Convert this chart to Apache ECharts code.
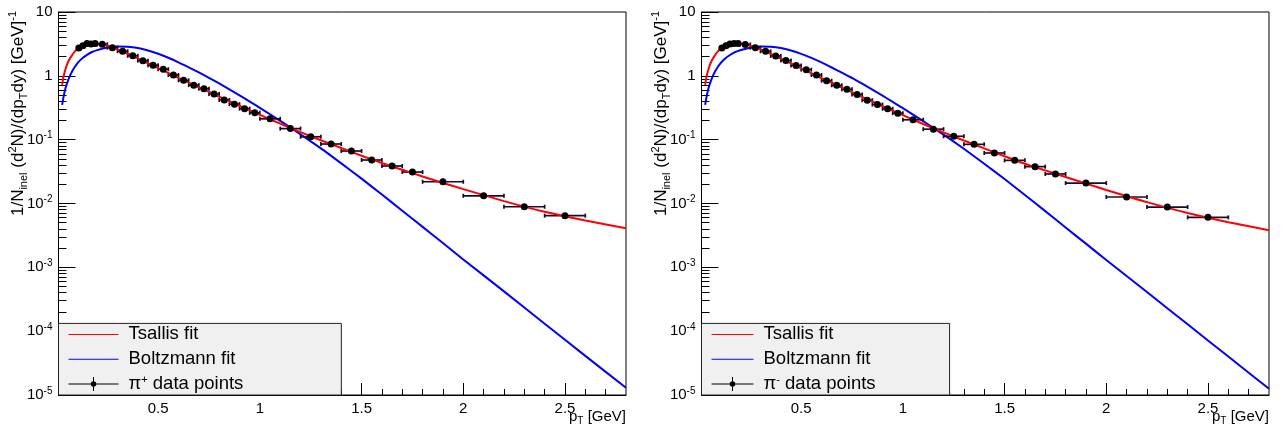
<!DOCTYPE html>
<html><head><meta charset="utf-8">
<script src="https://cdn.jsdelivr.net/npm/echarts@6/dist/echarts.min.js"></script>
<style>html,body{margin:0;padding:0;background:#fff}#c{width:1286px;height:433px}</style>
</head><body><div id="c"></div>
<script>
// ---- tick labels ----
const xTickLabels = [0.5, 1, 1.5, 2, 2.5];
const xMinorTicks = [0.1,0.2,0.3,0.4,0.6,0.7,0.8,0.9,1.1,1.2,1.3,1.4,1.6,1.7,1.8,1.9,2.1,2.2,2.3,2.4,2.6,2.7];
const yDecades = [1e-5, 1e-4, 1e-3, 1e-2, 1e-1, 1, 10];
const yMinorTicks = [];
for (let d = 0; d < yDecades.length - 1; d++) for (let k = 2; k <= 9; k++) yMinorTicks.push(k * yDecades[d]);

// ---- data points (pT bin centres, half widths) ----
const ptBins = [0.11,0.13,0.15,0.17,0.19,0.225,0.275,0.325,0.375,0.425,0.475,0.525,0.575,0.625,0.675,0.725,0.775,0.825,0.875,0.925,0.975,1.05,1.15,1.25,1.35,1.45,1.55,1.65,1.75,1.9,2.1,2.3,2.5];
const ptHalfWidth = [0.01,0.01,0.01,0.01,0.01,0.025,0.025,0.025,0.025,0.025,0.025,0.025,0.025,0.025,0.025,0.025,0.025,0.025,0.025,0.025,0.025,0.05,0.05,0.05,0.05,0.05,0.05,0.05,0.05,0.1,0.1,0.1,0.1];
const piPlusY = [2.72,2.95,3.2,3.14,3.22,3.12,2.76,2.43,2.06,1.73,1.46,1.27,1.03,0.85,0.715,0.63,0.52,0.418,0.36,0.306,0.263,0.212,0.149,0.111,0.0855,0.0664,0.048,0.0387,0.0311,0.0219,0.0132,0.0089,0.00645];
const piMinusY = [2.72,2.96,3.16,3.22,3.2,3.1,2.76,2.42,2.05,1.74,1.45,1.25,1.03,0.84,0.71,0.615,0.51,0.415,0.355,0.305,0.26,0.205,0.146,0.113,0.0845,0.0618,0.0474,0.0378,0.029,0.0209,0.01265,0.0088,0.00607];
const relErr = [0.03,0.03,0.03,0.03,0.03,0.03,0.03,0.03,0.03,0.03,0.03,0.03,0.03,0.03,0.03,0.03,0.03,0.03,0.03,0.03,0.03,0.04,0.04,0.04,0.04,0.04,0.04,0.04,0.04,0.05,0.05,0.06,0.06];

// ---- fit curves ----
const tsallisX = [0.028,0.035,0.048,0.06,0.072,0.085,0.097,0.11,0.13,0.15,0.17,0.2,0.25,0.3,0.35,0.4,0.45,0.5,0.55,0.6,0.65,0.7,0.75,0.8,0.85,0.9,0.95,1.0,1.1,1.2,1.3,1.4,1.5,1.6,1.7,1.8,1.9,2.0,2.2,2.4,2.6,2.8];
const tsallisPlusY = [0.72,0.98,1.39,1.72,2.0,2.3,2.54,2.75,2.98,3.12,3.18,3.17,2.98,2.6,2.22,1.88,1.57,1.32,1.11,0.93,0.785,0.66,0.56,0.47,0.4,0.34,0.288,0.245,0.178,0.131,0.098,0.074,0.056,0.043,0.0337,0.0265,0.021,0.0168,0.0109,0.0074,0.0054,0.0041];
const tsallisMinusY = [0.72,0.98,1.39,1.72,2.0,2.3,2.54,2.75,2.98,3.12,3.18,3.17,2.97,2.6,2.21,1.87,1.56,1.31,1.1,0.92,0.78,0.655,0.555,0.466,0.396,0.336,0.285,0.242,0.176,0.13,0.097,0.073,0.055,0.042,0.033,0.026,0.0205,0.0163,0.0105,0.0071,0.0051,0.0038];
const boltzX = [0.028,0.035,0.045,0.06,0.08,0.1,0.125,0.15,0.175,0.2,0.25,0.3,0.35,0.4,0.45,0.5,0.55,0.6,0.65,0.7,0.75,0.8,0.85,0.9,0.95,1.0,1.05,1.1,1.15,1.2,1.3,1.4,1.5,1.6,1.7,1.8,1.9,2.0,2.2,2.4,2.6,2.8];
const boltzPlusY = [0.35,0.47,0.65,0.9,1.22,1.53,1.86,2.13,2.36,2.53,2.77,2.88,2.86,2.73,2.5,2.22,1.92,1.63,1.36,1.13,0.93,0.76,0.615,0.495,0.395,0.315,0.25,0.197,0.155,0.121,0.073,0.0425,0.0245,0.0138,0.0077,0.0043,0.0024,0.00133,0.00042,0.000131,0.000041,0.000013];
const boltzMinusY = [0.35,0.47,0.65,0.9,1.22,1.53,1.86,2.12,2.35,2.52,2.76,2.87,2.85,2.72,2.49,2.21,1.91,1.62,1.35,1.12,0.925,0.755,0.61,0.49,0.39,0.312,0.247,0.195,0.153,0.12,0.072,0.042,0.0242,0.0136,0.0076,0.0042,0.00235,0.0013,0.00041,0.000128,0.00004,0.0000125];

const FONT = 'Liberation Sans, Arial, sans-serif';
const zip = (xs, ys) => xs.map((x, i) => [x, ys[i]]);

function errRender(params, api) {
  const x = api.value(0), y = api.value(1), dx = api.value(2), ey = api.value(3);
  const l = api.coord([x - dx, y]), r = api.coord([x + dx, y]);
  const t = api.coord([x, y + ey]), b = api.coord([x, y - ey]);
  const cap = 2;
  const st = { stroke: '#150c2c', lineWidth: 1.7, fill: null };
  return { type: 'group', children: [
    { type: 'line', shape: { x1: l[0], y1: l[1], x2: r[0], y2: r[1] }, style: st },
    { type: 'line', shape: { x1: l[0], y1: l[1] - cap, x2: l[0], y2: l[1] + cap }, style: st },
    { type: 'line', shape: { x1: r[0], y1: r[1] - cap, x2: r[0], y2: r[1] + cap }, style: st },
    { type: 'line', shape: { x1: t[0], y1: t[1], x2: b[0], y2: b[1] }, style: st }
  ]};
}

function lineIcon(w) {
  return 'path://M0,0H0.01V0.01H0Z M' + (w - 0.01) + ',15.99H' + w + 'V16H' + (w - 0.01) + 'Z M0,7.5H' + w + 'V8.5H0Z';
}
function ptsIcon(w) {
  const c = w / 2;
  return lineIcon(w) + ' M' + (c - 0.5) + ',1H' + (c + 0.5) + 'V15H' + (c - 0.5) + 'Z M' + (c + 2.8) + ',8A2.8,2.8 0 1 1 ' + (c - 2.8) + ',8A2.8,2.8 0 1 1 ' + (c + 2.8) + ',8Z';
}

const grids = [], xAxes = [], yAxes = [], series = [], legends = [];
function yLabel(v) {
  const e = Math.round(Math.log10(v));
  if (e === 1) return '10';
  if (e === 0) return '1';
  return '10{sup|' + e + '}';
}
function addPanel(g, left, ptsName, ptsY, tsY, bzY, legW, legPadR) {
  grids.push({ left: left, top: 12, width: 567.5, height: 383, show: true, borderColor: '#000', borderWidth: 1,
    backgroundColor: 'rgba(0,0,0,0)', outerBoundsMode: 'none', containLabel: false });
  const axLine = { show: true, onZero: false, lineStyle: { color: '#000', width: 1 } };
  xAxes.push({ gridIndex: g, type: 'value', position: 'bottom', min: 0.01, max: 2.8, axisLine: axLine,
    axisTick: { show: true, inside: true, length: 12, customValues: xTickLabels, lineStyle: { color: '#000', width: 1 } },
    axisLabel: { show: true, customValues: xTickLabels, formatter: v => String(v), fontSize: 15, color: '#000', fontFamily: FONT, margin: 6 },
    splitLine: { show: false },
    name: 'p{sub|T} [GeV]', nameLocation: 'end', nameGap: 0, nameMoveOverlap: false,
    nameTextStyle: { fontSize: 15, color: '#000', fontFamily: FONT, align: 'right', verticalAlign: 'top', padding: [13, 0, 0, 0], lineHeight: 18,
      rich: { sub: { fontSize: 10, lineHeight: 10, verticalAlign: 'bottom', fontFamily: FONT, color: '#000' } } } });
  xAxes.push({ gridIndex: g, type: 'value', position: 'bottom', min: 0.01, max: 2.8, axisLine: { show: false, onZero: false },
    axisTick: { show: true, inside: true, length: 6, customValues: xMinorTicks, lineStyle: { color: '#000', width: 1 } },
    axisLabel: { show: false }, splitLine: { show: false } });
  yAxes.push({ gridIndex: g, type: 'log', logBase: 10, position: 'left', min: 1e-5, max: 10, axisLine: axLine,
    axisTick: { show: true, inside: true, length: 17, customValues: yDecades, lineStyle: { color: '#000', width: 1 } },
    axisLabel: { show: true, customValues: yDecades, formatter: yLabel, fontSize: 15, color: '#000', fontFamily: FONT, margin: 6, lineHeight: 18,
      rich: { sup: { fontSize: 10, lineHeight: 10, verticalAlign: 'top', fontFamily: FONT, color: '#000' } } },
    splitLine: { show: false }, minorTick: { show: false },
    name: '1/N{sub|inel} (d{sup|2}N)/(dp{sub|T}dy) [GeV]{sup|-1}', nameLocation: 'middle', nameRotate: 90, nameGap: 29, nameMoveOverlap: false,
    nameTextStyle: { fontSize: 17, color: '#000', fontFamily: FONT, lineHeight: 22, padding: [0, 0, 0, 180],
      rich: { sub: { fontSize: 11, lineHeight: 11, verticalAlign: 'bottom', fontFamily: FONT, color: '#000' },
              sup: { fontSize: 11, lineHeight: 11, verticalAlign: 'top', fontFamily: FONT, color: '#000' } } } });
  yAxes.push({ gridIndex: g, type: 'log', logBase: 10, position: 'left', min: 1e-5, max: 10, axisLine: { show: false, onZero: false },
    axisTick: { show: true, inside: true, length: 8, customValues: yMinorTicks, lineStyle: { color: '#000', width: 1 } },
    axisLabel: { show: false }, splitLine: { show: false }, minorTick: { show: false } });
  const xi = 2 * g, yi = 2 * g;
  series.push({ type: 'line', name: 'Boltzmann fit', xAxisIndex: xi, yAxisIndex: yi, data: zip(boltzX, bzY), symbol: 'none', showSymbol: false,
    smooth: 0.2, color: '#0000ff', lineStyle: { color: '#0000ff', width: 2 }, z: 2, silent: true });
  series.push({ type: 'custom', name: 'err' + g, xAxisIndex: xi, yAxisIndex: yi, renderItem: errRender, encode: { x: 0, y: 1 },
    data: ptBins.map((x, i) => [x, ptsY[i], ptHalfWidth[i], ptsY[i] * relErr[i]]), z: 3, silent: true });
  series.push({ type: 'line', name: 'Tsallis fit', xAxisIndex: xi, yAxisIndex: yi, data: zip(tsallisX, tsY), symbol: 'none', showSymbol: false,
    smooth: 0.2, color: '#ff0000', lineStyle: { color: '#ff0000', width: 2 }, z: 4, silent: true });
  series.push({ type: 'scatter', name: ptsName, xAxisIndex: xi, yAxisIndex: yi, data: zip(ptBins, ptsY), symbol: 'circle', symbolSize: 7,
    color: '#000', itemStyle: { color: '#000', opacity: 1 }, z: 5, silent: true });
  legends.push({ show: true, orient: 'vertical', left: left, bottom: 38, itemWidth: legW, itemHeight: 16, itemGap: 4.8,
    padding: [1, legPadR, 1, 10], backgroundColor: '#f0f0f0', borderColor: '#222', borderWidth: 1, borderRadius: 0, selectedMode: false,
    itemStyle: { opacity: 1 },
    textStyle: { fontSize: 18.5, color: '#000', fontFamily: FONT, lineHeight: 20, padding: [0, 0, 0, 5],
      rich: { sup: { fontSize: 11, lineHeight: 10, verticalAlign: 'top', fontFamily: FONT, color: '#000' } } },
    formatter: name => name.replace(/^π([+-])/, 'π{sup|$1}'),
    data: [ { name: 'Tsallis fit', icon: lineIcon(legW) }, { name: 'Boltzmann fit', icon: lineIcon(legW) }, { name: ptsName, icon: ptsIcon(legW) } ],
    z: 10 });
}
addPanel(0, 58.5, 'π+ data points', piPlusY, tsallisPlusY, boltzPlusY, 50, 98);
addPanel(1, 701.5, 'π- data points', piMinusY, tsallisMinusY, boltzMinusY, 42, 74);

const chart = echarts.init(document.getElementById('c'), null, { renderer: 'canvas' });
chart.setOption({
  animation: false,
  backgroundColor: '#fff',
  textStyle: { fontFamily: FONT },
  grid: grids, xAxis: xAxes, yAxis: yAxes, series: series, legend: legends
});
</script></body></html>
